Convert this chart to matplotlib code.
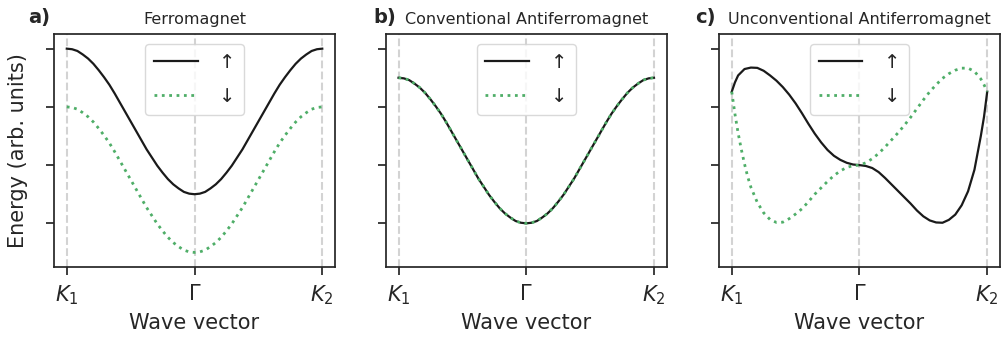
import matplotlib.pyplot as plt

# wave vector grid for the cosine-like bands (K1 -> Gamma -> K2), 49 points
k_grid = [i / 48 for i in range(49)]

# a) ferromagnet, values from K1 to Gamma (the bands are mirror-symmetric about Gamma)
ferro_up_half = [3.00, 2.99, 2.96, 2.90, 2.83, 2.74, 2.63, 2.51, 2.38, 2.23, 2.07, 1.91, 1.75,
                 1.59, 1.43, 1.27, 1.13, 0.99, 0.87, 0.76, 0.67, 0.60, 0.54, 0.51, 0.50]
ferro_down_half = [2.00, 1.99, 1.96, 1.90, 1.83, 1.74, 1.63, 1.51, 1.38, 1.23, 1.07, 0.91, 0.75,
                   0.59, 0.43, 0.27, 0.13, -0.01, -0.13, -0.24, -0.33, -0.40, -0.46, -0.49, -0.50]

# b) conventional antiferromagnet (degenerate bands)
conv_half = [2.50, 2.49, 2.46, 2.40, 2.33, 2.24, 2.13, 2.01, 1.88, 1.73, 1.57, 1.41, 1.25,
             1.09, 0.93, 0.77, 0.63, 0.49, 0.37, 0.26, 0.17, 0.10, 0.04, 0.01, 0.00]

# c) unconventional antiferromagnet (read off the picture)
unconv_k_up = [0, 0.0125, 0.025, 0.05, 0.075, 0.1, 0.125, 0.15, 0.175, 0.2, 0.225, 0.25,
               0.275, 0.3, 0.325, 0.35, 0.375, 0.4, 0.425, 0.45, 0.475, 0.5, 0.525, 0.55,
               0.575, 0.6, 0.625, 0.65, 0.675, 0.7, 0.725, 0.75, 0.775, 0.8, 0.825, 0.85,
               0.875, 0.9, 0.925, 0.95, 0.975, 0.9875, 1.0]
unconv_up = [2.26, 2.42, 2.54, 2.65, 2.675, 2.67, 2.62, 2.54, 2.45, 2.34, 2.21, 2.06,
             1.89, 1.71, 1.54, 1.39, 1.26, 1.16, 1.09, 1.04, 1.01, 1.00, 0.985, 0.95,
             0.88, 0.78, 0.67, 0.56, 0.45, 0.34, 0.22, 0.12, 0.05, 0.015, 0.01, 0.06,
             0.15, 0.31, 0.55, 0.92, 1.50, 1.83, 2.26]
unconv_k_down = [0, 0.0125, 0.025, 0.0375, 0.05, 0.0625, 0.075, 0.1, 0.125, 0.15, 0.175,
                 0.2, 0.225, 0.25, 0.275, 0.3, 0.325, 0.35, 0.375, 0.4, 0.425, 0.45, 0.475,
                 0.5, 0.525, 0.55, 0.575, 0.6, 0.625, 0.65, 0.675, 0.7, 0.725, 0.75, 0.775,
                 0.8, 0.825, 0.85, 0.875, 0.9, 0.925, 0.95, 0.975, 0.9875, 1.0]
unconv_down = [2.26, 1.88, 1.55, 1.27, 1.02, 0.80, 0.62, 0.36, 0.18, 0.065, 0.015,
               0.02, 0.08, 0.16, 0.25, 0.37, 0.50, 0.61, 0.72, 0.82, 0.90, 0.96, 0.99,
               1.00, 1.04, 1.11, 1.20, 1.31, 1.43, 1.55, 1.68, 1.82, 1.97, 2.12, 2.26,
               2.38, 2.49, 2.57, 2.63, 2.665, 2.665, 2.61, 2.48, 2.38, 2.26]

titles = ['Ferromagnet', 'Conventional Antiferromagnet', 'Unconventional Antiferromagnet']
panel_tags = ['a)', 'b)', 'c)']
xtick_pos = [0, 0.5, 1]
xtick_labels = [r'$K_1$', r'$\Gamma$', r'$K_2$']
spin_labels = ['↑', '↓']


def mirror(half):
    return half + half[-2::-1]


panels = [
    (k_grid, mirror(ferro_up_half), k_grid, mirror(ferro_down_half)),
    (k_grid, mirror(conv_half), k_grid, mirror(conv_half)),
    (unconv_k_up, unconv_up, unconv_k_down, unconv_down),
]

dark = '#262626'
green = '#4fae68'

plt.rcParams['font.family'] = ['DejaVu Sans']
plt.rcParams['text.color'] = dark
plt.rcParams['axes.labelcolor'] = dark
plt.rcParams['xtick.color'] = dark
plt.rcParams['ytick.color'] = dark

fig = plt.figure(figsize=(10.04, 3.4), dpi=100)
lefts = [0.0538, 0.3842, 0.7161]
tag_offsets = [-0.093, -0.045, -0.085]

for i, (ku, eu, kd, ed) in enumerate(panels):
    ax = fig.add_axes([lefts[i], 0.2147, 0.2799, 0.685])
    for xv in xtick_pos:
        ax.axvline(xv, color='#d3d3d3', ls='--', lw=1.5, zorder=0)
    ax.plot(ku, eu, color='#1a1a1a', lw=1.6, label=spin_labels[0])
    ax.plot(kd, ed, color=green, lw=2, ls=':', label=spin_labels[1])

    ax.set_xlim(-0.05, 1.05)
    ax.set_ylim(-0.75, 3.25)
    ax.set_xticks(xtick_pos)
    ax.set_xticklabels(xtick_labels, fontsize=15)
    ax.set_yticks([0, 1, 2, 3])
    ax.set_yticklabels([])
    ax.tick_params(length=6, width=1.25, pad=6)
    for sp in ax.spines.values():
        sp.set_color(dark)
        sp.set_linewidth(1.25)

    ax.set_xlabel('Wave vector', fontsize=15, labelpad=4)
    if i == 0:
        ax.set_ylabel('Energy (arb. units)', fontsize=15, labelpad=7)
    ax.set_title(titles[i], fontsize=11.5, pad=7)
    ax.text(tag_offsets[i], 1.03, panel_tags[i], transform=ax.transAxes,
            fontsize=14, fontweight='bold', va='bottom', ha='left')

    leg = ax.legend(loc='upper center', fontsize=14, handlelength=2.25,
                    handletextpad=1.1, labelspacing=0.8, borderpad=0.45)
    leg.get_frame().set_edgecolor('#d0d0d0')

fig.savefig('out.png', dpi=100)
